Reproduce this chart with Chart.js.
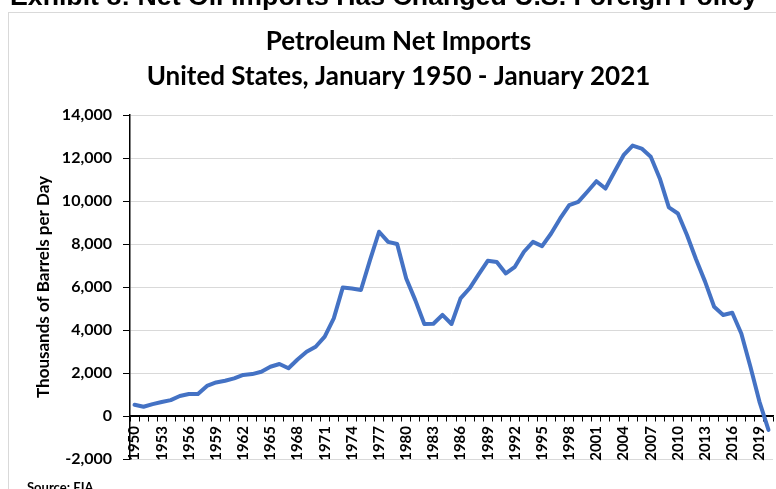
<!DOCTYPE html>
<html>
<head>
<meta charset="utf-8">
<script src="https://cdn.jsdelivr.net/npm/chart.js@4.4.1/dist/chart.umd.min.js"></script>
<style>
  html, body { margin: 0; padding: 0; background: #fff; }
  #wrap { width: 776px; height: 489px; }
</style>
</head>
<body>
<div id="wrap"><canvas id="importsChart" width="776" height="489"></canvas></div>
<script>
// categories: one point per year
const years = [
  '1950','1951','1952','1953','1954','1955','1956','1957','1958','1959',
  '1960','1961','1962','1963','1964','1965','1966','1967','1968','1969',
  '1970','1971','1972','1973','1974','1975','1976','1977','1978','1979',
  '1980','1981','1982','1983','1984','1985','1986','1987','1988','1989',
  '1990','1991','1992','1993','1994','1995','1996','1997','1998','1999',
  '2000','2001','2002','2003','2004','2005','2006','2007','2008','2009',
  '2010','2011','2012','2013','2014','2015','2016','2017','2018','2019',
  '2020'
];

// thousand barrels per day
const netImports = [
  520, 430, 550, 650, 740, 930, 1020, 1020, 1400, 1560,
  1640, 1750, 1910, 1950, 2060, 2290, 2420, 2220, 2630, 2990,
  3220, 3690, 4540, 5980, 5930, 5860, 7250, 8570, 8100, 8000,
  6400, 5390, 4280, 4290, 4700, 4280, 5470, 5940, 6590, 7220,
  7160, 6630, 6940, 7640, 8100, 7900, 8490, 9190, 9810, 9960,
  10430, 10920, 10580, 11360, 12130, 12580, 12440, 12060, 11050, 9700,
  9420, 8420, 7290, 6250, 5080, 4700, 4800, 3840, 2300, 670,
  -650
];

const yTicks = { min: -2000, max: 14000, step: 2000 };
const labelEvery = 3;

const titleLines = ['Petroleum Net Imports', 'United States, January 1950 - January 2021'];
const yTitle = 'Thousands of Barrels per Day';
const header = 'Exhibit 8: Net Oil Imports Has Changed U.S. Foreign Policy';
const source = 'Source: EIA';

const decor = {
  id: 'decor',
  beforeDraw(chart) {
    const c = chart.ctx;
    c.save();
    c.fillStyle = '#fff';
    c.fillRect(0, 0, chart.width, chart.height);
    c.strokeStyle = '#d9d9d9';
    c.lineWidth = 1;
    c.strokeRect(8.5, 12.5, chart.width + 20, chart.height + 20);
    c.restore();
  },
  afterDraw(chart) {
    const c = chart.ctx;
    c.save();
    c.fillStyle = '#000';
    // header text cut off at the top of the picture
    c.font = 'bold 22px "Liberation Sans"';
    const w = c.measureText(header).width;
    const size = 22 * 747 / w;
    c.font = 'bold ' + size.toFixed(1) + 'px "Liberation Sans"';
    c.textAlign = 'left';
    c.textBaseline = 'alphabetic';
    c.fillText(header, 10, 5);
    // source note
    c.font = 'bold 13px Lato';
    c.textBaseline = 'top';
    c.fillText(source, 27, 481);
    c.restore();
  }
};

const ctx = document.getElementById('importsChart').getContext('2d');
new Chart(ctx, {
  type: 'line',
  data: {
    labels: years,
    datasets: [{
      label: 'Net Imports',
      data: netImports,
      borderColor: '#4472C4',
      borderWidth: 4,
      pointRadius: 0,
      tension: 0,
      fill: false,
      borderJoinStyle: 'round',
      borderCapStyle: 'round'
    }]
  },
  options: {
    responsive: false,
    animation: false,
    devicePixelRatio: 1,
    // the x axis sits at y = 0, so its labels do not take room below the plot
    layout: { padding: { left: 24, right: 3, top: 14, bottom: 30 } },
    plugins: {
      legend: { display: false },
      tooltip: { enabled: false },
      title: {
        display: true,
        text: titleLines,
        color: '#000',
        font: { family: 'Lato', size: 26, weight: 'bold', lineHeight: 1.35 },
        padding: { top: 10, bottom: 20.8 }
      }
    },
    scales: {
      x: {
        type: 'category',
        offset: true,
        position: { y: 0 },
        grid: { display: true, drawOnChartArea: false, drawTicks: true, tickLength: 5, tickColor: '#000', offset: true },
        border: { display: true, color: '#000', width: 1.5 },
        ticks: {
          autoSkip: false,
          maxRotation: 90,
          minRotation: 90,
          padding: 5,
          color: '#000',
          font: { family: 'Lato', size: 15, weight: 'bold' },
          callback: function(v, i) { return i % labelEvery === 0 ? this.getLabelForValue(v) : ''; }
        },
        afterFit: s => { s.paddingLeft = 0; s.paddingRight = 0; }
      },
      y: {
        min: yTicks.min,
        max: yTicks.max,
        grid: {
          color: c => c.tick && c.tick.value === 0 ? '#000' : '#d9d9d9',
          tickColor: '#000',
          tickLength: 7
        },
        border: { display: true, color: '#000', width: 1.5 },
        ticks: {
          stepSize: yTicks.step,
          padding: 11,
          color: '#000',
          font: { family: 'Lato', size: 16, weight: 'bold' },
          callback: v => v.toLocaleString('en-US')
        },
        title: {
          display: true,
          text: yTitle,
          color: '#000',
          font: { family: 'Lato', size: 17, weight: 'bold' },
          padding: { top: 9, bottom: 0 }
        },
        afterFit: s => { s.width = 106; }
      }
    }
  },
  plugins: [decor]
});
</script>
</body>
</html>
